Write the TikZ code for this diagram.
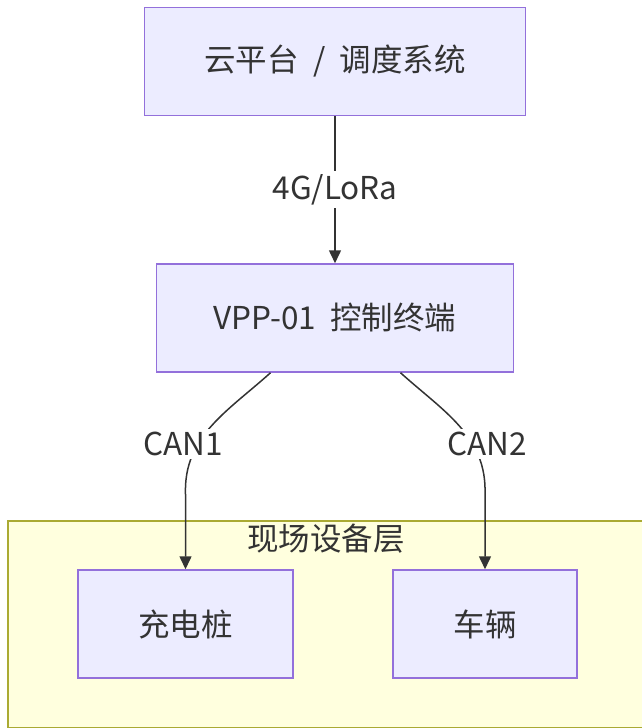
\documentclass[tikz,border=0pt]{standalone}
\usepackage{fontspec}
\setmainfont{Noto Sans CJK SC}
\usetikzlibrary{arrows.meta,positioning}
\definecolor{boxfill}{HTML}{ECECFF}
\definecolor{boxline}{HTML}{9370DB}
\definecolor{layerfill}{HTML}{FFFFDE}
\definecolor{layerline}{HTML}{AAAA33}
\definecolor{ink}{HTML}{333333}

\begin{document}
\begin{tikzpicture}[
    every node/.style={font=\fontsize{31.5}{36}\selectfont, text=ink},
    box/.style={draw=boxline, fill=boxfill, line width=1.5pt, inner sep=0pt, minimum height=108pt},
    layer/.style={draw=layerline, fill=layerfill, line width=1.5pt, inner sep=0pt},
    lbl/.style={fill=white, inner sep=3pt},
    flow/.style={-{Triangle[length=13pt,width=12pt]}, draw=ink, line width=1.5pt}
]
\useasboundingbox (0,0) rectangle (642pt,-728pt);
% field layer
\node[layer, anchor=north west, minimum width=660pt, minimum height=207pt] (field) at (7pt,-520pt) {};
\node[anchor=north] (fieldtitle) at (326pt,-520pt) {现场设备层};
% nodes
\node[box, minimum width=381pt] (cloud) at (335pt,-61.5pt) {云平台\hspace{0.45em}/\hspace{0.45em}调度系统};
\node[box, minimum width=357pt, below=147pt of cloud] (vpp) {VPP-01\hspace{0.45em}控制终端};
\node[box, minimum width=215pt] (pile) at (185.5pt,-624pt) {充电桩};
\node[box, minimum width=184pt] (car) at (485pt,-624pt) {车辆};
% links
\draw[flow] (cloud) -- node[lbl]{4G/LoRa} (vpp);
\draw[flow] ([xshift=-64.5pt]vpp.south) to[out=-138,in=92]
    node[lbl, pos=0.65, xshift=-15pt]{CAN1} ([yshift=75pt]pile.north) -- (pile.north);
\draw[flow] ([xshift=65.5pt]vpp.south) to[out=-42,in=88]
    node[lbl, pos=0.65, xshift=15pt]{CAN2} ([yshift=75pt]car.north) -- (car.north);
\end{tikzpicture}
\end{document}
